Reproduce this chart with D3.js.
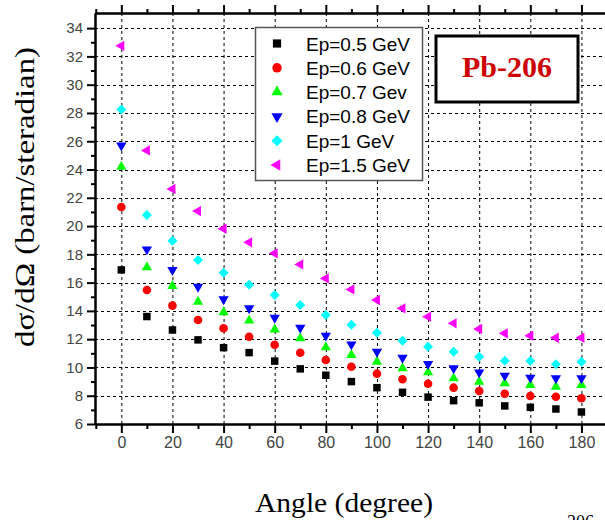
<!DOCTYPE html>
<html>
<head>
<meta charset="utf-8">
<script src="https://cdn.jsdelivr.net/npm/d3@7"></script>
<style>
  body { margin: 0; background: #fff; }
  svg { display: block; }
</style>
</head>
<body>
<div id="chart"></div>
<script>
// angles (degree)
const angles = [0, 10, 20, 30, 40, 50, 60, 70, 80, 90, 100, 110, 120, 130, 140, 150, 160, 170, 180];

// dsigma/dOmega values, one array per beam energy
const ep05 = [16.9, 13.6, 12.65, 11.95, 11.4, 11.05, 10.45, 9.9, 9.45, 9.0, 8.57, 8.24, 7.9, 7.65, 7.5, 7.28, 7.18, 7.06, 6.85];
const ep06 = [21.35, 15.48, 14.37, 13.36, 12.77, 12.17, 11.61, 11.04, 10.53, 10.05, 9.56, 9.16, 8.85, 8.57, 8.33, 8.14, 7.98, 7.93, 7.82];
const ep07 = [24.2, 17.08, 15.76, 14.65, 13.9, 13.31, 12.69, 12.06, 11.42, 10.88, 10.41, 9.94, 9.65, 9.23, 8.99, 8.88, 8.76, 8.64, 8.76];
const ep08 = [25.7, 18.35, 16.89, 15.71, 14.82, 14.18, 13.52, 12.81, 12.25, 11.63, 11.11, 10.69, 10.24, 9.94, 9.65, 9.42, 9.28, 9.23, 9.23];
const ep10 = [28.25, 20.78, 18.97, 17.6, 16.7, 15.85, 15.12, 14.42, 13.71, 13.02, 12.46, 11.89, 11.47, 11.11, 10.76, 10.48, 10.46, 10.22, 10.41];
const ep15 = [32.75, 25.35, 22.62, 21.06, 19.81, 18.85, 18.07, 17.29, 16.3, 15.52, 14.77, 14.18, 13.59, 13.12, 12.72, 12.41, 12.25, 12.1, 12.1];

const seriesNames = ["Ep=0.5 GeV", "Ep=0.6 GeV", "Ep=0.7 Gev", "Ep=0.8 GeV", "Ep=1 GeV", "Ep=1.5 GeV"];
const seriesValues = [ep05, ep06, ep07, ep08, ep10, ep15];
const seriesColors = ["#000000", "#ff0000", "#00ff00", "#0000ff", "#00ffff", "#ff00ff"];

const xTickLabels = d3.range(0, 181, 20);
const yTickLabels = d3.range(6, 35, 2);

const width = 605, height = 520;
const plotLeft = 95, plotRight = 607, plotTop = 13, plotBottom = 424;
const serif = "'Liberation Serif', 'Times New Roman', 'DejaVu Serif', serif";
const sans = "Arial, 'Liberation Sans', sans-serif";

const svg = d3.select("#chart").append("svg")
  .attr("width", width)
  .attr("height", height);

const x = d3.scaleLinear().domain([-10.3, 190]).range([plotLeft, plotRight]);
const y = d3.scaleLinear().domain([6, 35.07]).range([plotBottom, plotTop]);

// grille pointillée
const grid = svg.append("g").attr("stroke", "#000").attr("stroke-width", 1).attr("stroke-dasharray", "3,3");
grid.selectAll(".vg").data(xTickLabels).join("line")
  .attr("x1", d => x(d) + 0.5).attr("x2", d => x(d) + 0.5)
  .attr("y1", plotTop).attr("y2", plotBottom);
grid.selectAll(".hg").data(yTickLabels.filter(d => d > 6)).join("line")
  .attr("y1", d => Math.round(y(d)) + 0.5).attr("y2", d => Math.round(y(d)) + 0.5)
  .attr("x1", plotLeft).attr("x2", plotRight);

// axes
function styleAxis(g) {
  g.select(".domain").attr("stroke-width", 2);
  g.selectAll(".tick line").attr("stroke-width", 2);
  g.selectAll(".tick text")
    .attr("fill", "#444")
    .style("font-family", sans);
}

svg.append("g").attr("transform", `translate(0,${plotBottom})`)
  .call(d3.axisBottom(x).tickValues(d3.range(-10, 191, 20)).tickSize(5).tickSizeOuter(0).tickFormat(""))
  .call(styleAxis);
svg.append("g").attr("transform", `translate(0,${plotBottom})`)
  .call(d3.axisBottom(x).tickValues(xTickLabels).tickSize(9).tickSizeOuter(0).tickPadding(4))
  .call(styleAxis)
  .selectAll(".tick text").style("font-size", "16px");

svg.append("g").attr("transform", `translate(0,${plotTop})`)
  .call(d3.axisTop(x).tickValues(d3.range(-10, 191, 20)).tickSize(4).tickSizeOuter(0).tickFormat(""))
  .call(styleAxis);
svg.append("g").attr("transform", `translate(0,${plotTop})`)
  .call(d3.axisTop(x).tickValues(xTickLabels).tickSize(8).tickSizeOuter(0).tickFormat(""))
  .call(styleAxis);

svg.append("g").attr("transform", `translate(${plotLeft},0)`)
  .call(d3.axisLeft(y).tickValues(d3.range(7, 35, 2)).tickSize(4).tickSizeOuter(0).tickFormat(""))
  .call(styleAxis);
svg.append("g").attr("transform", `translate(${plotLeft},0)`)
  .call(d3.axisLeft(y).tickValues(yTickLabels).tickSize(8).tickSizeOuter(0).tickPadding(4))
  .call(styleAxis)
  .selectAll(".tick text").style("font-size", "15px");

// symboles
const symbolDefs = [
  { type: d3.symbolSquare, size: 56, rot: 0 },
  { type: d3.symbolCircle, size: 58, rot: 0 },
  { type: d3.symbolTriangle, size: 46, rot: 0 },
  { type: d3.symbolTriangle, size: 46, rot: 180 },
  { type: d3.symbolSquare, size: 50, rot: 45 },
  { type: d3.symbolTriangle, size: 46, rot: -90 }
];

seriesValues.forEach(function (vals, i) {
  const s = symbolDefs[i];
  svg.append("g").selectAll("path")
    .data(angles.map((a, j) => ({ a: a, v: vals[j] })))
    .join("path")
    .attr("d", d3.symbol().type(s.type).size(s.size))
    .attr("transform", d => `translate(${x(d.a)},${y(d.v)}) rotate(${s.rot})`)
    .attr("fill", seriesColors[i]);
});

// légende
const legend = svg.append("g");
legend.append("rect")
  .attr("x", 255.5).attr("y", 27.5).attr("width", 167).attr("height", 153)
  .attr("fill", "#fff").attr("stroke", "#555").attr("stroke-width", 1.5);
seriesNames.forEach(function (name, i) {
  const s = symbolDefs[i];
  const yy = 43.5 + i * 24.3;
  legend.append("path")
    .attr("d", d3.symbol().type(s.type).size(s.size * 1.2))
    .attr("transform", `translate(277,${yy}) rotate(${s.rot})`)
    .attr("fill", seriesColors[i]);
  legend.append("text")
    .attr("x", 306).attr("y", yy + 7)
    .style("font-family", sans)
    .style("font-size", "19px")
    .attr("fill", "#000")
    .text(name);
});

// étiquette Pb-206
svg.append("rect")
  .attr("x", 436).attr("y", 36).attr("width", 142).attr("height", 66)
  .attr("fill", "#fff").attr("stroke", "#000").attr("stroke-width", 3);
svg.append("text")
  .attr("x", 507).attr("y", 77)
  .attr("text-anchor", "middle")
  .style("font-family", serif)
  .style("font-weight", "bold")
  .style("font-size", "30px")
  .attr("fill", "#cc0000")
  .text("Pb-206");

// titres des axes
svg.append("text")
  .attr("transform", "translate(34,197) rotate(-90)")
  .attr("text-anchor", "middle")
  .attr("textLength", 300)
  .attr("lengthAdjust", "spacingAndGlyphs")
  .style("font-family", serif)
  .style("font-size", "27px")
  .text("dσ/dΩ (barn/steradian)");

svg.append("text")
  .attr("x", 344).attr("y", 512)
  .attr("text-anchor", "middle")
  .attr("textLength", 178)
  .attr("lengthAdjust", "spacingAndGlyphs")
  .style("font-family", serif)
  .style("font-size", "27px")
  .text("Angle (degree)");

svg.append("text")
  .attr("x", 567).attr("y", 528)
  .style("font-family", serif)
  .style("font-size", "18px")
  .text("206");
</script>
</body>
</html>
